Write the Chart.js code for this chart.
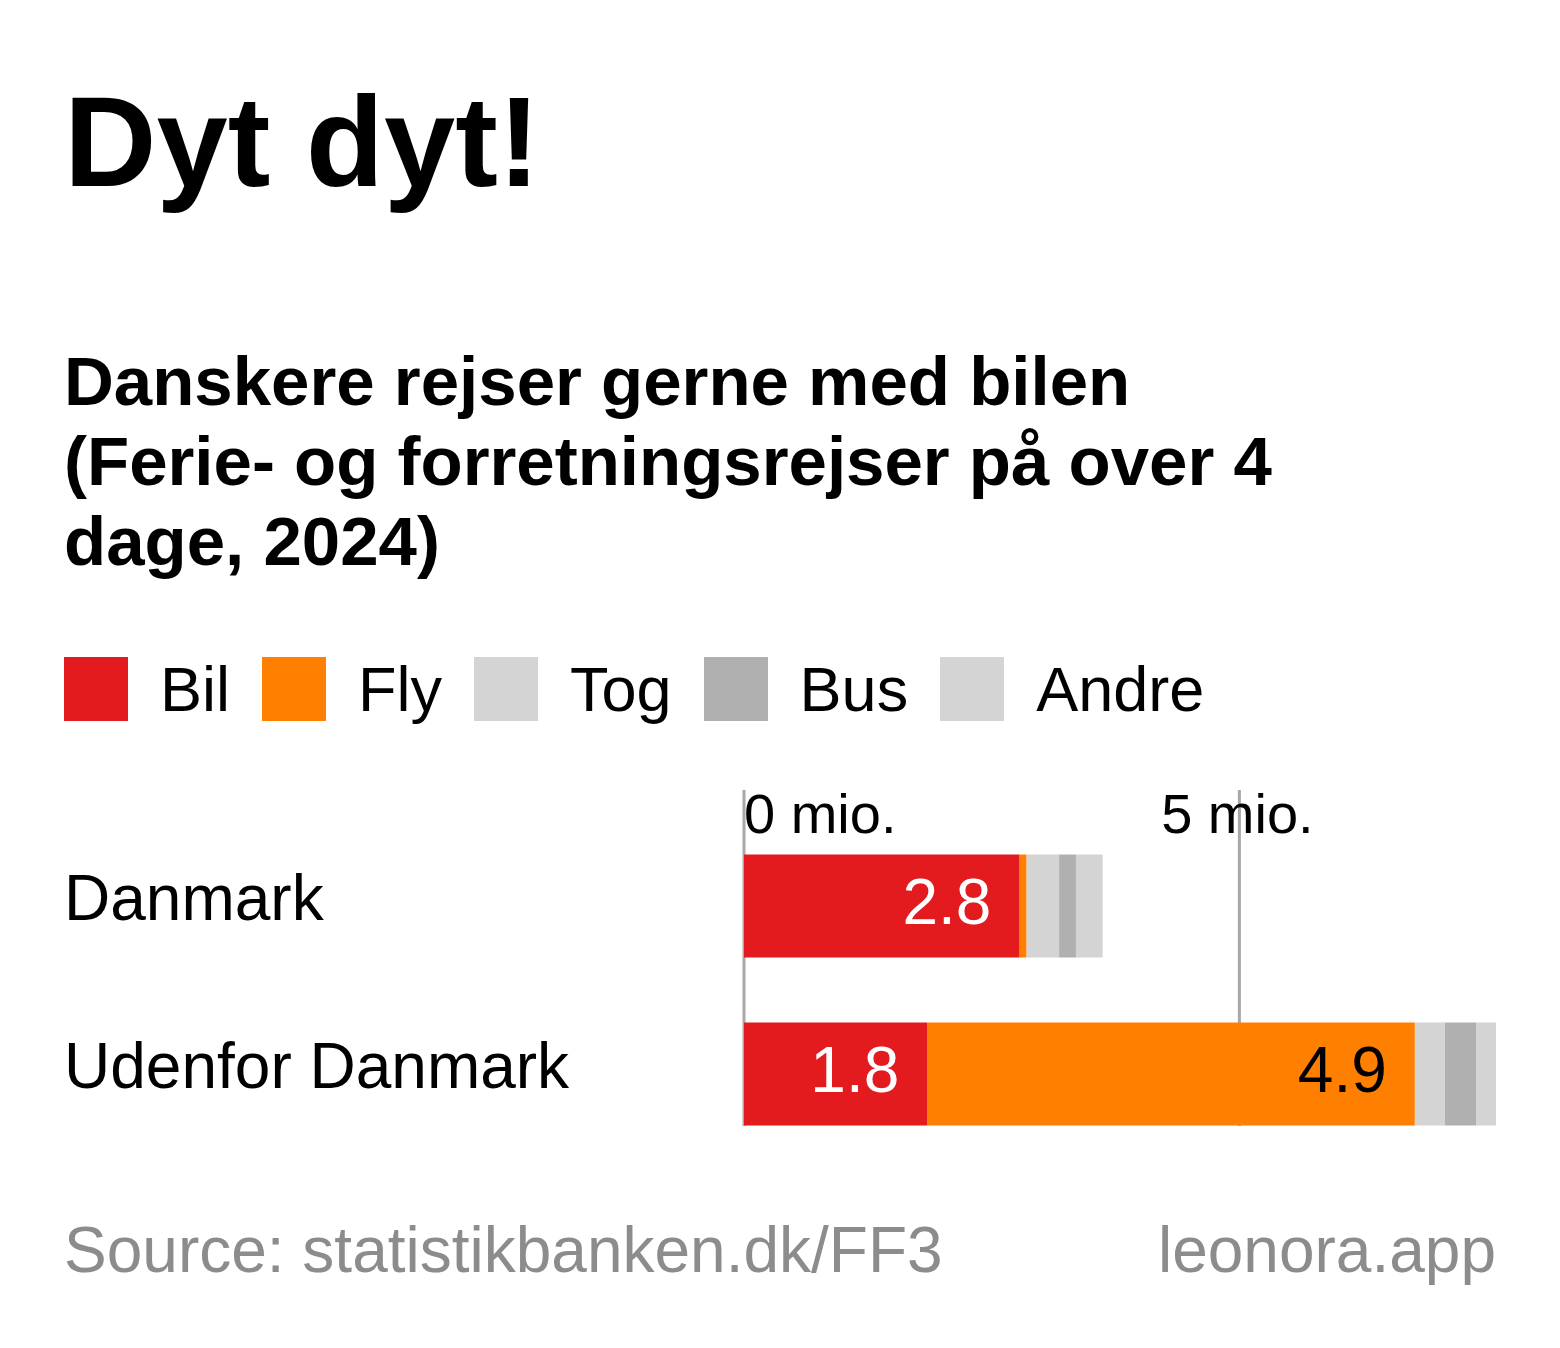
<!DOCTYPE html>
<html>
<head>
<meta charset="utf-8">
<script src="https://cdn.jsdelivr.net/npm/chart.js@4"></script>
<style>
  body { margin: 0; width: 1560px; height: 1348px; background: #fff; font-family: "Liberation Sans", Arial, sans-serif; position: relative; overflow: hidden; }
  .abs { position: absolute; white-space: nowrap; }
  #title { left: 64px; top: 68px; font-size: 128px; font-weight: bold; }
  #sub { left: 64px; top: 342px; font-size: 69px; font-weight: bold; line-height: 80px; }
  #legend { left: 64px; top: 653px; display: flex; align-items: center; }
  .sw { width: 64px; height: 64px; margin-right: 32px; }
  .lt { font-size: 63px; margin-right: 32px; }
  #src { left: 64px; top: 1213px; font-size: 64px; color: #8c8c8c; }
  #brand { right: 64px; top: 1213px; font-size: 64px; color: #8c8c8c; }
  #wrap { position: absolute; left: 0; top: 780px; width: 1560px; height: 400px; }
</style>
</head>
<body>
<div id="title" class="abs">Dyt dyt!</div>
<div id="sub" class="abs">Danskere rejser gerne med bilen<br>(Ferie- og forretningsrejser på over 4<br>dage, 2024)</div>
<div id="legend" class="abs"></div>
<div id="wrap"><canvas id="c" width="1560" height="400"></canvas></div>
<div id="src" class="abs">Source: statistikbanken.dk/FF3</div>
<div id="brand" class="abs">leonora.app</div>
<script>
// Data (mio. rejser)
const categories = ["Danmark", "Udenfor Danmark"];
const seriesNames = ["Bil", "Fly", "Tog", "Bus", "Andre"];
const seriesColors = ["#e31b1f", "#ff7f00", "#d4d4d4", "#b0b0b0", "#d4d4d4"];
const bil   = [2.78, 1.85];
const fly   = [0.07, 4.92];
const tog   = [0.33, 0.30];
const bus   = [0.17, 0.32];
const andre = [0.27, 0.20];
const tickValues = [0, 5];
const tickLabels = ["0 mio.", "5 mio."];
const labelText = [["2.8", "1.8"], [null, "4.9"]]; // per series (Bil, Fly)
const labelColor = ["#fff", "#000"];

const legend = document.getElementById("legend");
seriesNames.forEach((n, i) => {
  legend.insertAdjacentHTML("beforeend", `<div class="sw" style="background:${seriesColors[i]}"></div><div class="lt">${n}</div>`);
});

const FONT = '"Liberation Sans", Arial, sans-serif';

// gridlines + ticks + category labels
const decor = {
  id: "decor",
  beforeDatasetsDraw(chart) {
    const ctx = chart.ctx, x = chart.scales.x, y = chart.scales.y;
    ctx.save();
    ctx.strokeStyle = "#a8a8a8";
    ctx.lineWidth = 3;
    tickValues.forEach((v, i) => {
      const px = x.getPixelForValue(v);
      ctx.beginPath();
      ctx.moveTo(px, 10);
      ctx.lineTo(px, 346);
      ctx.stroke();
      ctx.fillStyle = "#000";
      ctx.font = `56px ${FONT}`;
      ctx.textBaseline = "alphabetic";
      ctx.textAlign = i === 0 ? "left" : "center";
      ctx.fillText(tickLabels[i], i === 0 ? px : px - 2, 53);
    });
    ctx.font = `64px ${FONT}`;
    ctx.textAlign = "left";
    ctx.textBaseline = "middle";
    categories.forEach((c, i) => ctx.fillText(c, 64, y.getPixelForValue(i) - 4));
    ctx.restore();
  },
  afterDatasetsDraw(chart) {
    const ctx = chart.ctx;
    ctx.save();
    ctx.font = `64px ${FONT}`;
    ctx.textAlign = "right";
    ctx.textBaseline = "middle";
    labelText.forEach((arr, di) => {
      const meta = chart.getDatasetMeta(di);
      arr.forEach((t, j) => {
        if (!t) return;
        const bar = meta.data[j];
        ctx.fillStyle = labelColor[di];
        ctx.fillText(t, bar.x - 28, bar.y);
      });
    });
    ctx.restore();
  }
};

new Chart(document.getElementById("c"), {
  type: "bar",
  data: {
    labels: categories,
    datasets: [bil, fly, tog, bus, andre].map((d, i) => ({
      label: seriesNames[i], data: d, backgroundColor: seriesColors[i],
      barPercentage: 0.613, categoryPercentage: 1, borderWidth: 0
    }))
  },
  options: {
    indexAxis: "y",
    responsive: false,
    animation: false,
    devicePixelRatio: 1,
    layout: { padding: { left: 744, right: 64, top: 42, bottom: 22 } },
    plugins: { legend: { display: false }, tooltip: { enabled: false } },
    scales: {
      x: { stacked: true, min: 0, max: 7.59, display: false },
      y: { stacked: true, display: false }
    }
  },
  plugins: [decor]
});
</script>
</body>
</html>
